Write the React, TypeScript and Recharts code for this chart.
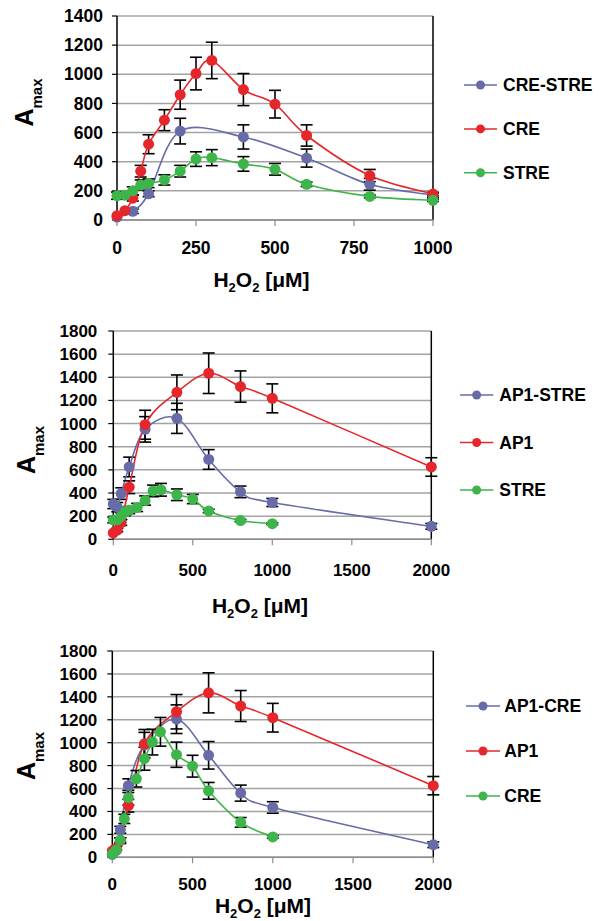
import React from 'react';
import { LineChart, Line, XAxis, YAxis, CartesianGrid, ErrorBar, ReferenceLine, Legend } from 'recharts';

const FONT = '"Liberation Sans", Arial, Helvetica, sans-serif';
const BLUE = '#676ca8';
const RED = '#e5262b';
const GREEN = '#3db54a';

// ---- tick labels ----
const X_TICKS_1000 = [0, 250, 500, 750, 1000];
const X_TICKS_2000 = [0, 500, 1000, 1500, 2000];
const Y_TICKS_1400 = [0, 200, 400, 600, 800, 1000, 1200, 1400];
const Y_TICKS_1800 = [0, 200, 400, 600, 800, 1000, 1200, 1400, 1600, 1800];

// ---- series values (H2O2 µM, Amax, error; null = no visible error bar) ----
const CRE_STRE_X = [0, 50, 100, 200, 400, 600, 800, 1000];
const CRE_STRE_Y = [20, 60, 180, 610, 570, 425, 245, 170];
const CRE_STRE_ERR = [null, 15, 20, 88, 83, 62, 40, 15];

const CRE_X = [0, 25, 50, 75, 100, 150, 200, 250, 300, 400, 500, 600, 800, 1000];
const CRE_Y = [30, 64, 150, 335, 520, 685, 860, 1005, 1095, 895, 795, 580, 305, 178];
const CRE_ERR = [null, null, 20, 40, 65, 72, 100, 112, 125, 110, 95, 73, 42, 12];

const STRE_X = [0, 25, 50, 75, 100, 150, 200, 250, 300, 400, 500, 600, 800, 1000];
const STRE_Y = [167, 170, 200, 240, 252, 275, 335, 418, 428, 385, 348, 245, 162, 135];
const STRE_ERR = [25, 25, 28, 35, 30, 35, 40, 50, 55, 50, 40, 15, 10, 8];

const AP1_X = [0, 25, 50, 100, 200, 400, 600, 800, 1000, 2000];
const AP1_Y = [55, 80, 145, 450, 990, 1270, 1435, 1320, 1218, 625];
const AP1_ERR = [null, 15, 25, 55, 125, 150, 175, 135, 125, 80];

const AP1_STRE_X = [0, 25, 50, 100, 200, 400, 600, 800, 1000, 2000];
const AP1_STRE_Y = [305, 278, 395, 625, 950, 1045, 690, 410, 318, 112];
const AP1_STRE_ERR = [40, 40, 50, 85, 110, 130, 85, 50, 35, 25];

const AP1_CRE_X = [0, 25, 50, 100, 200, 400, 600, 800, 1000, 2000];
const AP1_CRE_Y = [25, 60, 240, 625, 980, 1205, 890, 560, 435, 110];
const AP1_CRE_ERR = [null, null, 30, 60, 110, 125, 120, 70, 50, 25];

type Pt = { x: number; y: number; err: number | null };
const zip = (xs: number[], ys: number[], es: (number | null)[]): Pt[] =>
  xs.map((x, i) => ({ x, y: ys[i], err: es[i] }));

// Excel-like smoothed line (Catmull-Rom as cubic Bezier)
const smoothCurve: any = (context: any) => {
  let pts: number[][] = [];
  return {
    areaStart() {},
    areaEnd() {},
    lineStart() {
      pts = [];
    },
    point(x: number, y: number) {
      pts.push([+x, +y]);
    },
    lineEnd() {
      const n = pts.length;
      if (n === 0) return;
      context.moveTo(pts[0][0], pts[0][1]);
      const k = 1 / 6;
      for (let i = 0; i < n - 1; i++) {
        const p0 = pts[i - 1] || pts[i];
        const p1 = pts[i];
        const p2 = pts[i + 1];
        const p3 = pts[i + 2] || p2;
        context.bezierCurveTo(
          p1[0] + (p2[0] - p0[0]) * k,
          p1[1] + (p2[1] - p0[1]) * k,
          p2[0] - (p3[0] - p1[0]) * k,
          p2[1] - (p3[1] - p1[1]) * k,
          p2[0],
          p2[1]
        );
      }
    },
  };
};

interface SeriesDef {
  name: string;
  color: string;
  data: Pt[];
}

interface PanelProps {
  top: number;
  height: number;
  margin: { top: number; right: number; bottom: number; left: number };
  xMax: number;
  xTicks: number[];
  yMax: number;
  yTicks: number[];
  series: SeriesDef[];
  tickFont: number;
  xTickMargin: number;
  yTickMargin: number;
  legend: { left: number; top: number; gap: number; lineLen: number; textX: number };
  yTitle: { x: number; y: number };
  xTitle: { x: number; y: number };
}

const Panel = (p: PanelProps) => {
  const tickStyle = { fontSize: p.tickFont, fontWeight: 700, fill: '#000', fontFamily: FONT };
  const L = p.legend;
  const legendH = 24 + 2 * L.gap;
  const renderLegend = () => (
    <svg width={140} height={legendH} style={{ display: 'block' }}>
      {p.series.map((s, i) => {
        const cy = 12 + i * L.gap;
        return (
          <g key={s.name}>
            <line x1={0} y1={cy} x2={L.lineLen} y2={cy} stroke={s.color} strokeWidth={1.5} />
            <circle cx={L.lineLen / 2} cy={cy} r={4.5} fill={s.color} />
            <text
              x={L.textX}
              y={cy}
              dy="0.36em"
              fontSize={17.5}
              fontWeight={700}
              fontFamily={FONT}
              fill="#000"
            >
              {s.name}
            </text>
          </g>
        );
      })}
    </svg>
  );
  return (
    <div style={{ position: 'absolute', left: 0, top: p.top, width: 602, height: p.height }}>
      <LineChart width={602} height={p.height} margin={p.margin}>
        <CartesianGrid vertical={false} stroke="#a3a3a3" strokeWidth={1.5} />
        <XAxis
          type="number"
          dataKey="x"
          domain={[0, p.xMax]}
          ticks={p.xTicks}
          height={30}
          tick={tickStyle}
          tickSize={6}
          tickMargin={p.xTickMargin}
          axisLine={{ stroke: '#8c8c8c', strokeWidth: 1.5 }}
          tickLine={{ stroke: '#8c8c8c', strokeWidth: 1.2 }}
        />
        <YAxis
          type="number"
          domain={[0, p.yMax]}
          ticks={p.yTicks}
          width={60}
          tick={tickStyle}
          tickSize={5}
          tickMargin={p.yTickMargin}
          axisLine={{ stroke: '#000', strokeWidth: 1.5 }}
          tickLine={{ stroke: '#000', strokeWidth: 1.2 }}
          interval={0}
        />
        <ReferenceLine x={p.xMax} stroke="#000" strokeWidth={1.5} />
        {p.series.map((s) => (
          <Line
            key={s.name}
            name={s.name}
            data={s.data}
            dataKey="y"
            type={smoothCurve}
            stroke={s.color}
            strokeWidth={1.6}
            dot={{ r: 5.5, fill: s.color, stroke: s.color, strokeWidth: 0 }}
            activeDot={false}
            isAnimationActive={false}
          >
            <ErrorBar dataKey="err" width={6} stroke="#000" strokeWidth={1.6} direction="y" />
          </Line>
        ))}
        <Legend
          layout="horizontal"
          verticalAlign="middle"
          align="center"
          wrapperStyle={{ left: L.left, top: L.top, width: 140, height: legendH }}
          content={renderLegend}
        />
      </LineChart>
      <svg
        width={602}
        height={p.height}
        style={{ position: 'absolute', left: 0, top: 0, pointerEvents: 'none' }}
      >
        <text
          transform={`translate(${p.yTitle.x},${p.yTitle.y}) rotate(-90)`}
          textAnchor="middle"
          fontSize={25}
          fontWeight={700}
          fontFamily={FONT}
          fill="#000"
        >
          A
          <tspan fontSize={15} dy={9}>
            max
          </tspan>
        </text>
        <text
          x={p.xTitle.x}
          y={p.xTitle.y}
          textAnchor="middle"
          fontSize={21}
          fontWeight={700}
          fontFamily={FONT}
          fill="#000"
        >
          H
          <tspan fontSize={13} dy={5}>
            2
          </tspan>
          <tspan dy={-5}>O</tspan>
          <tspan fontSize={13} dy={5}>
            2
          </tspan>
          <tspan dy={-5}>{' [\u03bcM]'}</tspan>
        </text>
      </svg>
    </div>
  );
};

export default function App() {
  const panel1: SeriesDef[] = [
    { name: 'CRE-STRE', color: BLUE, data: zip(CRE_STRE_X, CRE_STRE_Y, CRE_STRE_ERR) },
    { name: 'CRE', color: RED, data: zip(CRE_X, CRE_Y, CRE_ERR) },
    { name: 'STRE', color: GREEN, data: zip(STRE_X, STRE_Y, STRE_ERR) },
  ];
  const panel2: SeriesDef[] = [
    { name: 'AP1-STRE', color: BLUE, data: zip(AP1_STRE_X, AP1_STRE_Y, AP1_STRE_ERR) },
    { name: 'AP1', color: RED, data: zip(AP1_X, AP1_Y, AP1_ERR) },
    { name: 'STRE', color: GREEN, data: zip(STRE_X, STRE_Y, STRE_ERR) },
  ];
  const panel3: SeriesDef[] = [
    { name: 'AP1-CRE', color: BLUE, data: zip(AP1_CRE_X, AP1_CRE_Y, AP1_CRE_ERR) },
    { name: 'AP1', color: RED, data: zip(AP1_X, AP1_Y, AP1_ERR) },
    { name: 'CRE', color: GREEN, data: zip(CRE_X, CRE_Y, CRE_ERR) },
  ];
  return (
    <div
      style={{
        position: 'absolute',
        left: 0,
        top: 0,
        width: 602,
        height: 921,
        background: '#fff',
        overflow: 'hidden',
      }}
    >
      <Panel
        top={0}
        height={300}
        margin={{ top: 16, right: 169, bottom: 50, left: 57 }}
        xMax={1000}
        xTicks={X_TICKS_1000}
        yMax={1400}
        yTicks={Y_TICKS_1400}
        series={panel1}
        tickFont={17.5}
        xTickMargin={16}
        yTickMargin={9}
        legend={{ left: 464, top: 73, gap: 43.9, lineLen: 33, textX: 39 }}
        yTitle={{ x: 33, y: 102.5 }}
        xTitle={{ x: 261.5, y: 286.7 }}
      />
      <Panel
        top={300}
        height={320}
        margin={{ top: 31, right: 170.7, bottom: 50.7, left: 53.3 }}
        xMax={2000}
        xTicks={X_TICKS_2000}
        yMax={1800}
        yTicks={Y_TICKS_1800}
        series={panel2}
        tickFont={17}
        xTickMargin={19}
        yTickMargin={11}
        legend={{ left: 460, top: 83, gap: 47.5, lineLen: 33.3, textX: 39.3 }}
        yTitle={{ x: 34.6, y: 150 }}
        xTitle={{ x: 260, y: 313 }}
      />
      <Panel
        top={620}
        height={301}
        margin={{ top: 31, right: 168.7, bottom: 33.7, left: 52.3 }}
        xMax={2000}
        xTicks={X_TICKS_2000}
        yMax={1800}
        yTicks={Y_TICKS_1800}
        series={panel3}
        tickFont={17}
        xTickMargin={15}
        yTickMargin={10}
        legend={{ left: 466, top: 74, gap: 45, lineLen: 34, textX: 38.3 }}
        yTitle={{ x: 35, y: 136 }}
        xTitle={{ x: 263, y: 293 }}
      />
    </div>
  );
}
